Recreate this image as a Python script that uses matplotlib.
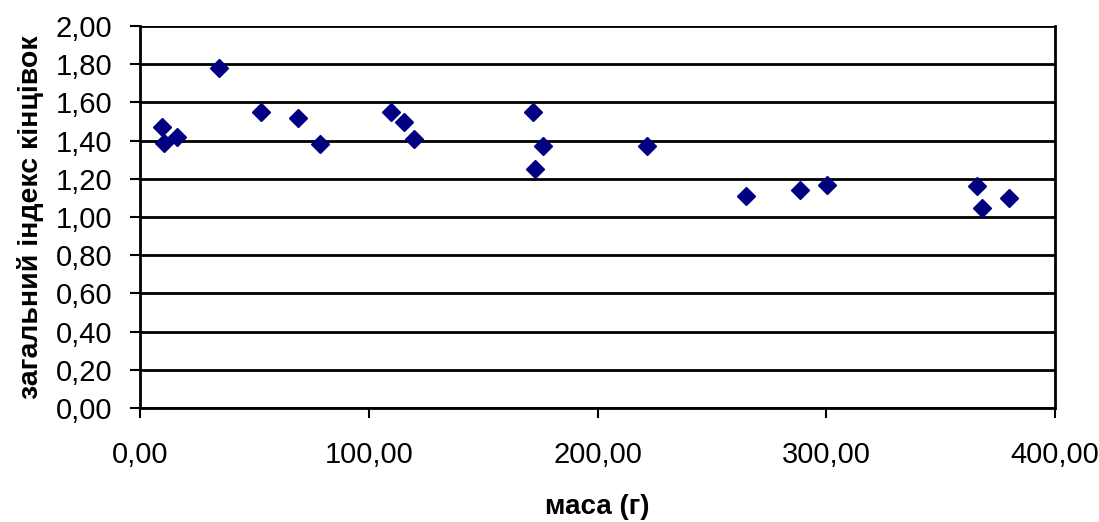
import matplotlib.pyplot as plt
from matplotlib.ticker import FuncFormatter

plt.rcParams['font.family'] = ['Liberation Sans', 'DejaVu Sans']

# маса (г) vs загальний індекс кінцівок
mass = [9.5, 10.6, 16.0, 34.4, 52.8, 68.9, 78.6, 109.8, 115.2, 119.8,
        171.6, 176.0, 172.7, 221.6, 264.9, 288.7, 300.5, 365.8, 368.0, 379.9]
index = [1.47, 1.39, 1.42, 1.78, 1.55, 1.52, 1.38, 1.55, 1.50, 1.41,
         1.55, 1.37, 1.25, 1.37, 1.11, 1.14, 1.17, 1.16, 1.05, 1.10]

xticks = [0, 100, 200, 300, 400]
yticks = [0.0, 0.2, 0.4, 0.6, 0.8, 1.0, 1.2, 1.4, 1.6, 1.8, 2.0]

fig = plt.figure(figsize=(10.99, 5.22), dpi=100)
ax = fig.add_axes([0.1274, 0.2184, 0.8326, 0.7316])

ax.plot(mass, index, linestyle='none', marker='D', markersize=9.5,
        color='#000080', zorder=3, clip_on=False)

ax.set_xlim(0, 400)
ax.set_ylim(0, 2.0)
ax.set_xticks(xticks)
ax.set_yticks(yticks)

comma = lambda v, p: f'{v:.2f}'.replace('.', ',')
ax.xaxis.set_major_formatter(FuncFormatter(comma))
ax.yaxis.set_major_formatter(FuncFormatter(comma))

ax.grid(axis='y', color='black', linewidth=2)
ax.set_axisbelow(True)
for s in ax.spines.values():
    s.set_color('black')
    s.set_linewidth(2)
ax.spines['top'].set_visible(False)

ax.tick_params(axis='both', direction='out', length=7, width=1.5,
               labelsize=21, colors='black')
ax.tick_params(axis='x', pad=17)
ax.tick_params(axis='y', pad=13)

ax.set_xlabel('маса (г)', fontsize=20, fontweight='bold', labelpad=18)
ax.set_ylabel('загальний індекс кінцівок', fontsize=20.5, fontweight='bold', labelpad=8)

fig.savefig('out.png', dpi=100)
